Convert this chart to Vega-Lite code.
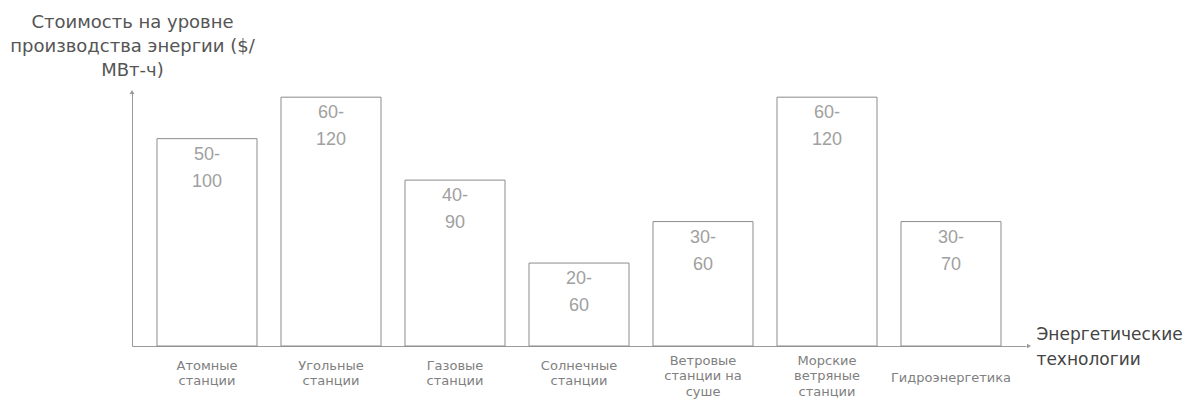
{
  "$schema": "https://vega.github.io/schema/vega-lite/v6.json",
  "autosize": {"type": "none"},
  "padding": {"left": 132, "top": 92, "right": 167, "bottom": 57},
  "width": 894,
  "height": 254,
  "background": "white",
  "config": {
    "view": {"stroke": null},
    "font": "Liberation Sans"
  },
  "datasets": {
    "bars": [
      {"tech": "Атомные|станции", "value": 100, "label": "50-\n100"},
      {"tech": "Угольные|станции", "value": 120, "label": "60-\n120"},
      {"tech": "Газовые|станции", "value": 80, "label": "40-\n90"},
      {"tech": "Солнечные|станции", "value": 40, "label": "20-\n60"},
      {"tech": "Ветровые|станции на|суше", "value": 60, "label": "30-\n60"},
      {"tech": "Морские|ветряные|станции", "value": 120, "label": "60-\n120"},
      {"tech": "Гидроэнергетика", "value": 60, "label": "30-\n70"}
    ],
    "arrows": [
      {"px": 0, "py": 122.5, "dir": "up"},
      {"px": 1, "py": 0, "dir": "right"}
    ]
  },
  "layer": [
    {
      "data": {"name": "bars"},
      "encoding": {
        "x": {
          "field": "tech", "type": "nominal", "sort": null,
          "scale": {"paddingInner": 0.1935, "paddingOuter": 0.2016},
          "axis": {
            "title": ["Энергетические", "технологии"],
            "titleFont": "DejaVu Sans",
            "titleAnchor": null,
            "titleAlign": "left",
            "titleBaseline": "top",
            "titleX": 904,
            "titleY": -20,
            "titleFontSize": 17,
            "titleFontWeight": "normal",
            "titleColor": "#444",
            "titleLineHeight": 25,
            "labelAngle": 0,
            "labelExpr": "split(datum.value, '|')",
            "labelFont": "DejaVu Sans",
            "labelFontSize": 13,
            "labelColor": "#808080",
            "labelLineHeight": 15.5,
            "labelBaseline": "middle",
            "labelPadding": {
              "condition": [
                {"test": "length(split(datum.value, '|')) == 3", "value": 14},
                {"test": "length(split(datum.value, '|')) == 1", "value": 31}
              ],
              "value": 19
            },
            "ticks": false,
            "tickSize": 0,
            "domainColor": "#999",
            "domainWidth": 1
          }
        },
        "y": {
          "field": "value", "type": "quantitative",
          "scale": {"domain": [0, 122.5], "nice": false},
          "axis": {
            "title": ["Стоимость на уровне", "производства энергии ($/", "МВт-ч)"],
            "titleFont": "DejaVu Sans",
            "titleAngle": 0,
            "titleAlign": "center",
            "titleBaseline": "top",
            "titleX": 0,
            "titleY": -79,
            "titleFontSize": 18,
            "titleFontWeight": "normal",
            "titleColor": "#555",
            "titleLineHeight": 24,
            "labels": false,
            "ticks": false,
            "grid": false,
            "domainColor": "#999",
            "domainWidth": 1
          }
        }
      },
      "layer": [
        {
          "mark": {"type": "bar", "fill": "white", "stroke": "#8c8c8c", "strokeWidth": 1}
        },
        {
          "mark": {"type": "text", "baseline": "top", "align": "center", "dy": 7, "fontSize": 18, "color": "#a0a0a0", "lineBreak": "\n", "lineHeight": 27},
          "encoding": {
            "text": {"field": "label"}
          }
        }
      ]
    },
    {
      "data": {"name": "arrows"},
      "mark": {"type": "point", "filled": true, "color": "#999", "size": 22, "opacity": 1},
      "encoding": {
        "x": {"field": "px", "type": "quantitative", "scale": {"domain": [0, 1], "range": [0, 897]}, "axis": null},
        "y": {"field": "py", "type": "quantitative"},
        "shape": {"field": "dir", "type": "nominal", "scale": {"domain": ["up", "right"], "range": ["triangle-up", "triangle-right"]}, "legend": null}
      }
    }
  ],
  "resolve": {"scale": {"x": "independent"}, "axis": {"x": "independent"}}
}
